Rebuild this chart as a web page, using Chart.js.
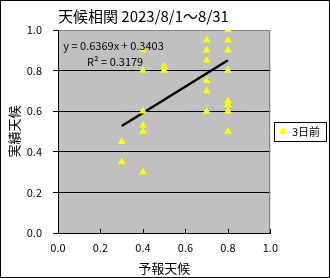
<!DOCTYPE html>
<html>
<head>
<meta charset="utf-8">
<script src="https://cdn.jsdelivr.net/npm/chart.js@4"></script>
<style>
  html, body { margin: 0; padding: 0; background: #fff; }
  canvas { display: block; }
</style>
</head>
<body>
<canvas id="c" width="330" height="278"></canvas>
<script>
// 予報天候 (x) / 実績天候 (y) - 3日前
const forecast = [0.3, 0.3, 0.4, 0.4, 0.4, 0.4, 0.4, 0.4, 0.5, 0.5,
  0.7, 0.7, 0.7, 0.7, 0.7, 0.7, 0.8, 0.8, 0.8, 0.8, 0.8, 0.8, 0.8, 0.8];
const actual = [0.45, 0.35, 0.9, 0.8, 0.6, 0.53, 0.5, 0.3, 0.82, 0.8,
  0.95, 0.9, 0.85, 0.75, 0.7, 0.6, 1.0, 0.95, 0.9, 0.8, 0.65, 0.63, 0.6, 0.5];

// 近似直線 (端点は図から読み取り)
const trendX = [0.3, 0.8];
const trendY = [0.527, 0.851];

const xTickLabels = ['0.0', '0.2', '0.4', '0.6', '0.8', '1.0'];
const yTickLabels = ['0.0', '0.2', '0.4', '0.6', '0.8', '1.0'];

const titleText = '天候相関 2023/8/1～8/31';
const seriesName = '3日前';
const eqText = 'y = 0.6369x + 0.3403';
const r2Text = 'R² = 0.3179';

const FONT = '"Noto Sans CJK JP", "Noto Sans", sans-serif';

const points = forecast.map((x, i) => ({ x, y: actual[i] }));
const trend = trendX.map((x, i) => ({ x, y: trendY[i] }));

// 背景・枠・凡例枠・数式
const decor = {
  id: 'decor',
  beforeDraw(chart) {
    const { ctx, chartArea: a } = chart;
    ctx.save();
    ctx.fillStyle = '#fff';
    ctx.fillRect(0, 0, chart.width, chart.height);
    ctx.fillStyle = '#c0c0c0';
    ctx.fillRect(a.left, a.top, a.right - a.left, a.bottom - a.top);
    ctx.restore();
  },
  beforeDatasetsDraw(chart) {
    const { ctx, chartArea: a, scales } = chart;
    ctx.save();
    // 右枠
    ctx.strokeStyle = '#808080';
    ctx.lineWidth = 1;
    ctx.beginPath();
    ctx.moveTo(Math.round(a.right) - 0.5, a.top);
    ctx.lineTo(Math.round(a.right) - 0.5, a.bottom);
    ctx.stroke();
    // x軸の内向き目盛
    ctx.strokeStyle = '#000';
    scales.x.ticks.forEach(t => {
      const px = Math.round(scales.x.getPixelForValue(t.value)) + 0.5;
      ctx.beginPath();
      ctx.moveTo(px, a.bottom);
      ctx.lineTo(px, a.bottom - 4);
      ctx.stroke();
    });
    ctx.restore();
  },
  afterDraw(chart) {
    const { ctx, scales } = chart;
    ctx.save();
    // 数式
    ctx.fillStyle = '#000';
    ctx.font = '11px ' + FONT;
    ctx.textBaseline = 'middle';
    ctx.textAlign = 'left';
    ctx.fillText(eqText, scales.x.getPixelForValue(0.025), scales.y.getPixelForValue(0.923));
    ctx.fillText(r2Text, scales.x.getPixelForValue(0.137), scales.y.getPixelForValue(0.844));
    // 凡例の枠
    const hb = chart.legend && chart.legend.legendHitBoxes && chart.legend.legendHitBoxes[0];
    if (hb) {
      ctx.strokeStyle = '#000';
      ctx.lineWidth = 1;
      ctx.strokeRect(274.5, Math.round(hb.top + hb.height / 2) - 9.5, 52, 19);
    }
    // 外枠
    ctx.strokeRect(0.5, 0.5, chart.width - 1, chart.height - 1);
    ctx.restore();
  }
};

new Chart(document.getElementById('c'), {
  type: 'scatter',
  data: {
    datasets: [
      {
        label: seriesName,
        data: points,
        pointStyle: 'triangle',
        pointRadius: 4.5,
        pointHoverRadius: 4.5,
        backgroundColor: '#ffff00',
        borderColor: '#ffff00',
        borderWidth: 0
      },
      {
        label: 'trend',
        type: 'line',
        data: trend,
        borderColor: '#000',
        borderWidth: 2.5,
        pointRadius: 0,
        fill: false
      }
    ]
  },
  options: {
    responsive: false,
    devicePixelRatio: 1,
    animation: false,
    layout: { padding: { left: 6, right: 0, top: 2, bottom: 2 } },
    plugins: {
      title: {
        display: true,
        text: titleText,
        align: 'start',
        fullSize: false,
        color: '#000',
        font: { family: FONT, size: 15, weight: 'normal' },
        padding: { top: 5, bottom: 5 }
      },
      legend: {
        position: 'right',
        fullSize: false,
        labels: {
          filter: (item) => item.text === seriesName,
          usePointStyle: true,
          pointStyle: 'triangle',
          boxWidth: 7,
          boxHeight: 7,
          color: '#000',
          font: { family: FONT, size: 11 },
          padding: 9
        }
      },
      tooltip: { enabled: false }
    },
    scales: {
      x: {
        type: 'linear',
        min: 0, max: 1,
        afterFit: (s) => { s.height = 43; },
        ticks: {
          stepSize: 0.2,
          color: '#000',
          font: { family: FONT, size: 11 },
          padding: 8,
          maxRotation: 0,
          callback: (v, i) => xTickLabels[i]
        },
        grid: { drawOnChartArea: false, drawTicks: false },
        border: { color: '#000', width: 1 },
        title: {
          display: true,
          text: '予報天候',
          color: '#000',
          font: { family: FONT, size: 13 },
          padding: { top: 3, bottom: 0 }
        }
      },
      y: {
        min: 0, max: 1,
        afterFit: (s) => { s.width = 52; },
        ticks: {
          stepSize: 0.2,
          color: '#000',
          font: { family: FONT, size: 11 },
          padding: 11,
          callback: (v, i) => yTickLabels[i]
        },
        grid: {
          color: (c) => (c.index === yTickLabels.length - 1 ? '#808080' : '#000'),
          tickLength: 5,
          tickColor: '#000'
        },
        border: { color: '#000', width: 1 },
        title: {
          display: true,
          text: '実績天候',
          color: '#000',
          font: { family: FONT, size: 13 },
          padding: { top: 0, bottom: 2 }
        }
      }
    }
  },
  plugins: [decor]
});
</script>
</body>
</html>
